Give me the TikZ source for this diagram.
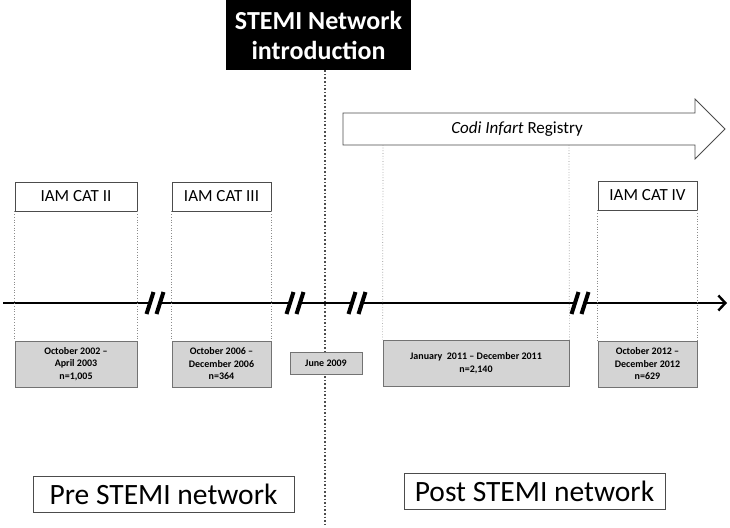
\documentclass[tikz,border=0pt]{standalone}
\usepackage{fontspec}
\setmainfont{Carlito}
\usetikzlibrary{arrows.meta}
\begin{document}
\begin{tikzpicture}[x=1pt,y=-1pt,
  catbox/.style={draw=black!70,line width=0.8pt,fill=white,inner sep=0pt,font=\fontsize{17}{19}\selectfont},
  graybox/.style={draw=black!55,line width=0.8pt,fill=black!17,inner sep=0pt,align=center,font=\bfseries\fontsize{10}{12.5}\selectfont},
  netbox/.style={draw=black!70,line width=0.8pt,fill=white,inner sep=0pt,font=\fontsize{29.5}{32}\selectfont},
  guide/.style={draw=black!45,dotted,line width=0.7pt},
  brk/.style={line width=4pt,black}]
\useasboundingbox (0,0) rectangle (730,527);
% STEMI box
\node[fill=black,text=white,minimum width=185pt,minimum height=70pt,inner sep=0pt,align=center,
  font=\bfseries\fontsize{26}{30}\selectfont] (stemi) at (318.5,35) {STEMI Network\\introduction};
\coordinate (vb) at (325,527);
\draw[line width=1.6pt,dotted,black!70] (stemi.south -| vb) -- (vb);
% registry arrow
\draw[black!70,line width=0.8pt,fill=white] (343,113) -- (695,113) -- (695,99) -- (725,129) -- (695,159) -- (695,145) -- (343,145) -- cycle;
\node[font=\fontsize{17}{19}\selectfont] (reg) at (517,129) {\textit{Codi Infart} Registry};
% axis
\coordinate (axL) at (3,303);
\coordinate (axR) at (727,303);
\draw[line width=2.4pt,-{Straight Barb[length=7pt,width=15pt,line width=2.4pt]}] (axL) -- (axR);
% break marks
\foreach \cx in {155,295,357,580}{
  \fill[white] (\cx-10,315) -- (\cx-3,291) -- (\cx+10,291) -- (\cx+3,315) -- cycle;
  \draw[brk] (\cx-8.5,314) -- (\cx-1.5,292);
  \draw[brk] (\cx+1.5,314) -- (\cx+8.5,292);
}
% category boxes
\node[catbox,minimum width=122pt,minimum height=29pt] (c2) at (76,196.5) {IAM CAT II};
\node[catbox,minimum width=99pt,minimum height=29pt] (c3) at (221.5,196.5) {IAM CAT III};
\node[catbox,minimum width=99pt,minimum height=29pt] (c4) at (647.5,195.5) {IAM CAT IV};
% gray boxes
\node[graybox,minimum width=122pt,minimum height=46pt] (g1) at (76,364) {October 2002 --\\April 2003\\n=1,005};
\node[graybox,minimum width=99pt,minimum height=46pt] (g2) at (221.5,364) {October 2006 --\\December 2006\\n=364};
\node[graybox,minimum width=72pt,minimum height=22pt] (g3) at (326,363) {June 2009};
\node[graybox,minimum width=186pt,minimum height=46pt] (g4) at (476,363) {January \ 2011 -- December 2011\\n=2,140};
\node[graybox,minimum width=99pt,minimum height=46pt] (g5) at (647.5,364) {October 2012 --\\December 2012\\n=629};
% guides
\draw[guide] (c2.south west) -- (g1.north west);
\draw[guide] (c2.south east) -- (g1.north east);
\draw[guide] (c3.south west) -- (g2.north west);
\draw[guide] (c3.south east) -- (g2.north east);
\draw[guide] (c4.south west) -- (g5.north west);
\draw[guide] (c4.south east) -- (g5.north east);
\coordinate (r1) at (383,145);
\coordinate (r2) at (569,145);
\draw[guide] (r1) -- (g4.north west);
\draw[guide] (r2) -- (g4.north east);
% network boxes
\node[netbox,minimum width=261pt,minimum height=36pt] (pre) at (163.5,494.5) {Pre STEMI network};
\node[netbox,minimum width=261pt,minimum height=36pt] (post) at (534.5,491.5) {Post STEMI network};
\end{tikzpicture}
\end{document}
